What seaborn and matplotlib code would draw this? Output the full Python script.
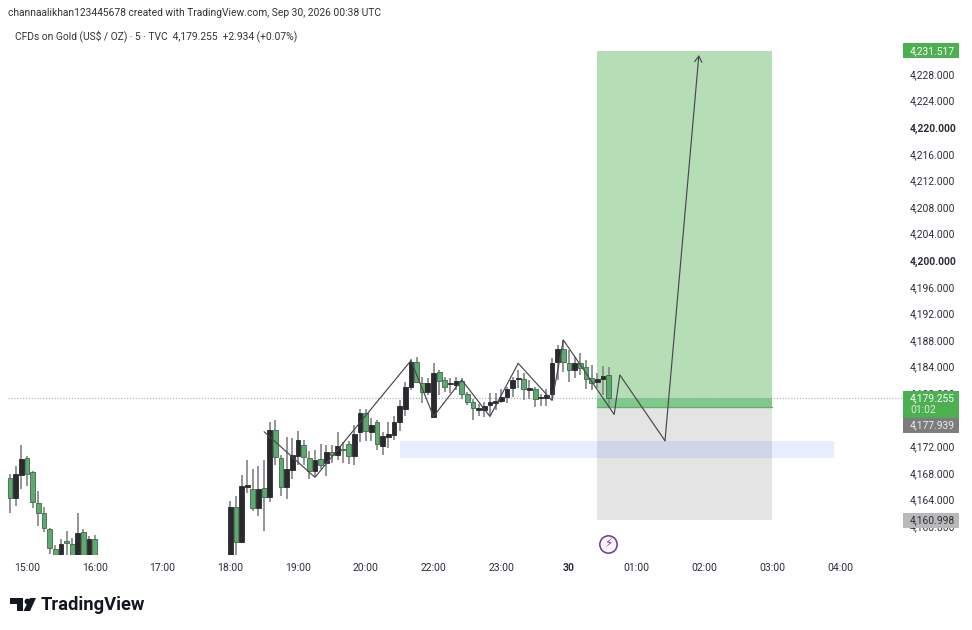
import matplotlib
matplotlib.use("Agg")
import matplotlib.pyplot as plt
from matplotlib.patches import Rectangle, Polygon, Circle
import seaborn as sns
import pandas as pd

sns.set_theme(style="white")
plt.rcParams['font.family'] = ['Roboto', 'DejaVu Sans']

bar_index = list(range(-3, 13)) + list(range(36, 104))
opens = [167.3,164.2,167.7,170.3,168.1,163.5,162.0,159.65,156.6,155.0,157.6,157.35,155.0,159.15,155.0,158.05,
         154.5,162.9,157.6,165.95,165.65,162.75,165.8,164.4,174.5,170.2,165.85,168.45,170.6,172.2,170.25,168.25,170.1,169.45,171.15,170.75,171.5,172.35,170.6,
         174.1,177.0,174.2,175.6,172.1,173.35,173.65,175.6,177.65,180.95,184.65,181.6,180.15,176.4,183.2,182.0,181.35,181.2,181.9,179.85,178.75,177.45,177.45,178.2,178.6,178.8,179.5,180.85,182.1,
         182.2,180.55,180.6,179.25,179.3,179.85,184.65,186.65,184.5,183.5,184.6,183.9,182.25,181.65,182.2,182.7]
closes = [164.2,167.8,170.1,167.9,163.65,162.0,159.75,156.65,155.0,157.35,157.5,155.0,159.05,155.0,158.05,155.0,
          162.9,157.6,166.1,166.05,162.75,165.6,164.4,174.4,170.4,165.85,168.55,170.65,173.0,170.4,168.35,170.0,169.2,171.15,170.75,172.1,171.4,170.5,173.85,
          177.0,174.35,175.25,172.3,173.6,173.85,175.6,178.1,180.9,184.75,181.65,180.15,181.5,183.0,181.9,181.0,181.55,181.8,179.85,178.65,177.8,177.7,178.05,178.65,178.75,179.4,180.7,182.0,182.25,
          180.6,180.7,179.2,179.35,179.8,184.5,186.65,184.65,183.5,184.5,183.85,182.2,181.6,182.2,182.6,179.255]
highs = [167.9,169.0,172.25,170.5,168.25,165.35,162.9,159.75,157.2,158.15,159.25,158.25,162.0,159.65,158.6,158.75,
         163.75,164.6,167.75,170.0,168.6,169.0,170.0,175.6,175.9,170.75,173.4,173.25,174.25,172.9,171.25,171.4,172.35,172.25,172.25,174.15,172.6,172.75,175.25,
         177.6,177.6,176.25,176.0,174.1,175.6,176.5,179.0,181.75,185.1,185.5,182.5,182.25,184.5,183.5,182.5,182.35,182.4,182.25,180.25,179.1,178.4,178.75,180.0,180.0,180.6,181.0,182.5,183.5,
         183.0,182.0,181.0,179.9,180.6,185.25,187.25,188.0,186.5,185.5,186.0,185.0,184.25,183.1,184.1,184.0]
lows = [162.0,163.0,165.6,166.1,162.75,160.0,159.1,155.75,154.5,154.5,154.8,154.5,154.5,154.5,154.5,154.5,
        154.0,154.5,157.5,165.0,162.25,161.5,159.25,163.6,169.25,164.5,164.1,167.1,169.25,169.25,167.15,167.4,168.6,167.6,169.5,169.9,169.5,169.4,169.25,
        172.6,172.75,172.75,171.5,170.75,171.75,172.9,174.25,176.6,180.5,181.5,178.5,179.75,176.3,179.75,180.25,180.0,180.5,179.1,178.25,176.0,176.6,176.4,176.5,177.4,178.5,178.5,179.5,180.75,
        179.0,179.15,177.9,178.1,178.1,179.0,182.0,183.25,181.75,182.25,182.75,180.6,180.5,180.75,179.75,178.0]
BASE = 4000.0

path_index = [42, 51, 68, 72, 77, 82, 87, 93, 95, 104, 105, 113, 119]
path_price = [4174.2, 4167.35, 4184.9, 4176.5, 4182.0, 4176.5, 4184.5, 4178.9, 4188.0, 4176.8, 4182.75, 4172.85, 4230.85]

tool_start, tool_end = 101, 132
target_price, entry_price, stop_price, last_price = 4231.517, 4177.939, 4160.998, 4179.255
zone_start, zone_end, zone_low, zone_high = 66, 143, 4170.25, 4172.8

time_ticks = list(range(0, 157, 12))[:13]
time_labels = ['15:00','16:00','17:00','18:00','19:00','20:00','22:00','23:00','30','01:00','02:00','03:00','04:00']
price_ticks = list(range(4160, 4232, 4))
bold_prices = [4200, 4220]

W, H = 972, 630
fig = plt.figure(figsize=(W/100, H/100), dpi=100, facecolor='white')
AL, AR, AT, AB = 8, 892, 42, 555
ax = fig.add_axes([AL/W, 1-AB/H, (AR-AL)/W, (AB-AT)/H])

df = pd.DataFrame({'i': bar_index, 'o': opens, 'c': closes, 'h': highs, 'l': lows})
for col in 'ochl':
    df[col] = df[col] + BASE
df['up'] = df['c'] >= df['o']
GREEN, DARK, WICK = '#5FA870', '#2A2A2E', '#8C8C90'

ax.add_patch(Rectangle((tool_start, entry_price), tool_end-tool_start, target_price-entry_price, fc='#B6DEB6', ec='none', zorder=1))
ax.add_patch(Rectangle((tool_start, last_price), tool_end-tool_start, entry_price-last_price, fc='#7FC98A', ec='none', zorder=1.1))
ax.add_patch(Rectangle((tool_start, stop_price), tool_end-tool_start, entry_price-stop_price, fc='#E4E4E5', ec='none', zorder=1))
ax.plot([tool_start, tool_end], [entry_price, entry_price], color='#6FA876', lw=1, zorder=1.2)
ax.add_patch(Rectangle((zone_start, zone_low), zone_end-zone_start, zone_high-zone_low, fc='#2962FF', alpha=0.11, ec='none', zorder=1.3))
ax.plot([-3.37, 155], [last_price, last_price], color='#A8A8A8', lw=0.8, ls=(0, (1, 1.6)), zorder=1.5, clip_on=False)

ax.vlines(df['i'], df['l'], df['h'], color=WICK, lw=1.3, zorder=2)
bodies_h = (df['c']-df['o']).abs().clip(lower=0.25)
bottoms = df[['o', 'c']].min(axis=1)
ax.bar(df['i'], bodies_h, bottom=bottoms, width=0.84,
       color=[DARK if u else GREEN for u in df['up']],
       edgecolor=[DARK if u else '#3A6B47' for u in df['up']], linewidth=0.6, zorder=3)

sns.lineplot(x=path_index[:-1], y=path_price[:-1], ax=ax, sort=False, estimator=None, color='#48484C', lw=0.85, zorder=4)
ax.annotate('', xy=(path_index[-1], path_price[-1]), xytext=(path_index[-2], path_price[-2]),
            arrowprops=dict(arrowstyle='->,head_length=0.35,head_width=0.22', color='#48484C', lw=0.85, shrinkA=0, shrinkB=0), zorder=4)

ax.set_xlim((AL-27)/5.646, (AR-27)/5.646)
ax.set_ylim(4228-(AB-74)/6.65, 4228-(AT-74)/6.65)
ax.set_xticks(time_ticks)
ax.set_xticklabels(time_labels)
ax.set_yticks(price_ticks)
ax.set_yticklabels([f'{p:,.3f}' for p in price_ticks])
ax.yaxis.tick_right()
ax.tick_params(axis='y', length=0, pad=13, labelsize=7.4, labelcolor='#2A2E39')
ax.tick_params(axis='x', length=0, pad=6, labelsize=7.5, labelcolor='#2A2E39')
for t, p in zip(ax.get_yticklabels(), price_ticks):
    if p in bold_prices:
        t.set_fontweight('bold')
for t, l in zip(ax.get_xticklabels(), time_labels):
    if l == '30':
        t.set_fontweight('bold')
ax.grid(False)
sns.despine(ax=ax, left=True, bottom=True, right=True, top=True)
ax.patch.set_alpha(0)

def px(x, y):
    return x/W, 1-y/H

def tag(y0, y1, color):
    fig.add_artist(Rectangle(px(903, y1), 56/W, (y1-y0)/H, fc=color, ec='none', transform=fig.transFigure, zorder=5))

def label(x, y, s, color='#2A2E39', size=7.4, ha='left', **kw):
    fig.text(*px(x, y), s, color=color, fontsize=size, ha=ha, va='center', zorder=6, **kw)

tag(43, 58, '#4CAF50')
label(932.5, 51, f'{target_price:,.3f}', color='white', ha='center')
tag(391, 419, '#4CAF50')
label(932.5, 398, f'{last_price:,.3f}', color='white', ha='center')
label(910, 410, '01:02', color='#D8F0DA')
tag(418, 433, '#7C7C7E')
label(932.5, 425, f'{entry_price:,.3f}', color='#EDEDED', ha='center')
tag(513, 528, '#B9B9B9')
label(932.5, 520, f'{stop_price:,.3f}', ha='center')

label(8, 13, 'channaalikhan123445678 created with TradingView.com, Sep 30, 2026 00:38 UTC', size=7.4, color='#333333')
label(15, 36, 'CFDs on Gold (US\\$ / OZ) · 5 · TVC  4,179.255  +2.934 (+0.07%)', size=7.4, color='#333333')
label(41, 605, 'TradingView', size=13.2, color='#131722', fontweight='bold')

# logo and lightning badge
T = fig.transFigure
fig.add_artist(Polygon([px(10, 598), px(23, 598), px(23, 611), px(16.5, 611), px(16.5, 604), px(10, 604)], closed=True, fc='#131722', ec='none', transform=T, zorder=6))
fig.add_artist(Polygon([px(30, 598), px(36, 598), px(30, 611), px(23.5, 611)], closed=True, fc='#131722', ec='none', transform=T, zorder=6))
ax.plot([(26.7-27)/5.646], [4228-(600.6-74)/6.65], 'o', ms=4.2, mfc='#131722', mec='none', zorder=6, clip_on=False)
ax.plot([(608-27)/5.646], [4228-(544-74)/6.65], 'o', ms=12.5, mfc='#FBF3FD', mec='#6F3A86', mew=1.1, zorder=6, clip_on=False)
label(608, 544, '\u26A1', color='#6F3A86', size=8.5, ha='center')

fig.savefig('out.png', dpi=100, facecolor='white')
